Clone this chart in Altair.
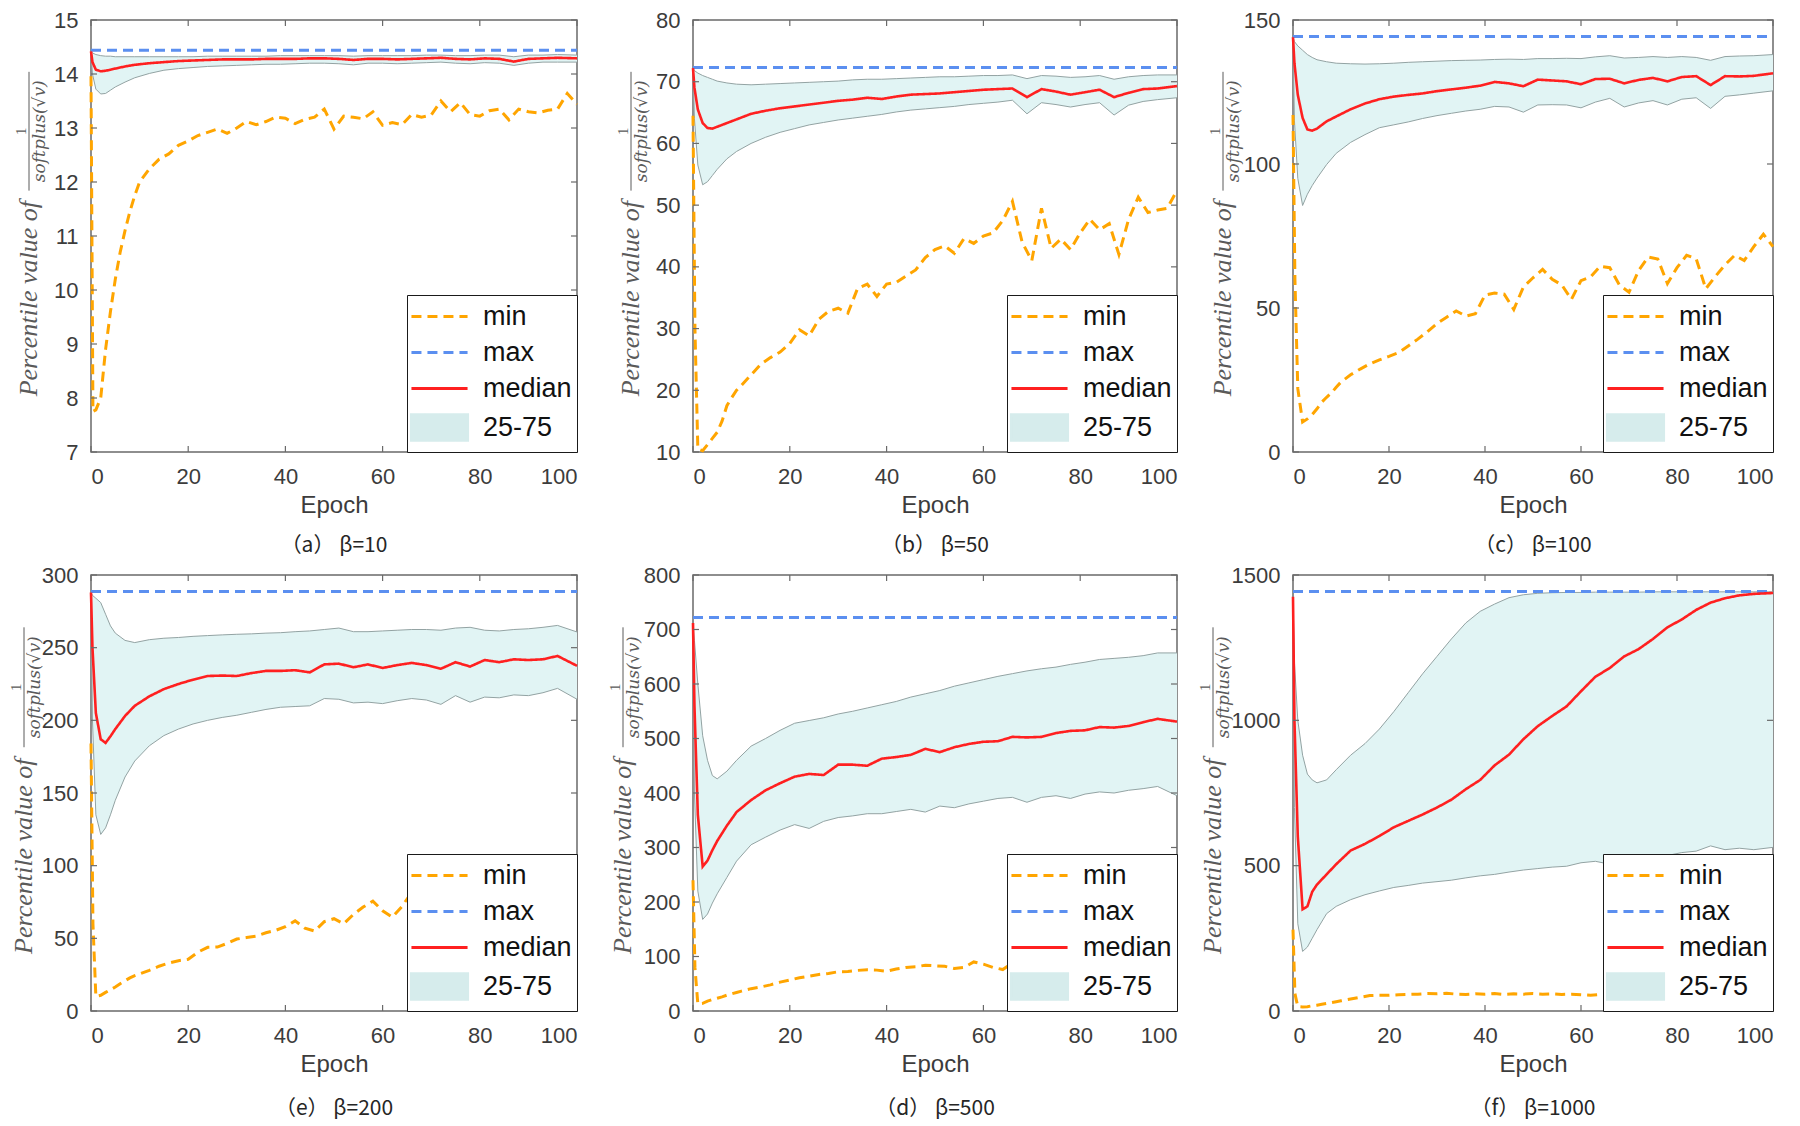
import altair as alt
import pandas as pd

# ---------------- data ----------------
EPOCH_Q = [0, 0.3, 1, 2, 3, 4, 5, 7, 9, 12, 15, 18, 21, 24, 27, 30, 33, 36, 39, 42,
           45, 48, 51, 54, 57, 60, 63, 66, 69, 72, 75, 78, 81, 84, 87, 90, 93, 96, 100]
EPOCH_MIN = [0, 0.4, 1, 2, 3, 4, 5, 6, 7, 8, 9, 10, 12, 14, 16, 18, 20, 22, 24, 26, 28,
             30, 32, 34, 36, 38, 40, 42, 44, 46, 48, 50, 52, 54, 56, 58, 60, 62, 64, 66,
             68, 70, 72, 74, 76, 78, 80, 82, 84, 86, 88, 90, 92, 94, 96, 98, 100]
X_TICKS = [0, 20, 40, 60, 80, 100]

# (a) beta = 10
a_max = 14.44
a_min = [13.96, 7.75, 7.78, 8.0, 8.9, 9.6, 10.2, 10.7, 11.1, 11.45, 11.75, 12.0,
         12.24, 12.42, 12.52, 12.68, 12.76, 12.86, 12.92, 12.98, 12.9, 13.0, 13.12, 13.06,
         13.12, 13.2, 13.18, 13.08, 13.16, 13.2, 13.35, 12.98, 13.22, 13.2, 13.17, 13.3,
         13.05, 13.1, 13.06, 13.25, 13.2, 13.24, 13.5, 13.3, 13.47, 13.25, 13.22, 13.32,
         13.35, 13.15, 13.35, 13.3, 13.28, 13.33, 13.35, 13.64, 13.44]
a_med = [14.42, 14.22, 14.08, 14.05, 14.06, 14.08, 14.1, 14.14, 14.17, 14.2, 14.22, 14.24,
         14.25, 14.26, 14.27, 14.27, 14.27, 14.28, 14.28, 14.28, 14.29, 14.29, 14.28, 14.26,
         14.28, 14.28, 14.27, 14.28, 14.29, 14.3, 14.28, 14.27, 14.29, 14.28, 14.23, 14.28,
         14.29, 14.3, 14.29]
a_q75 = [14.42, 14.39, 14.36, 14.34, 14.33, 14.33, 14.32, 14.32, 14.32, 14.32, 14.32, 14.32,
         14.32, 14.33, 14.33, 14.33, 14.33, 14.33, 14.34, 14.34, 14.34, 14.34, 14.34, 14.33,
         14.34, 14.34, 14.34, 14.34, 14.35, 14.35, 14.34, 14.34, 14.35, 14.35, 14.32, 14.35,
         14.35, 14.36, 14.35]
a_q25 = [14.42, 14.0, 13.72, 13.63, 13.64, 13.7, 13.76, 13.85, 13.93, 14.01, 14.07, 14.1,
         14.12, 14.14, 14.15, 14.16, 14.17, 14.18, 14.18, 14.19, 14.2, 14.2, 14.19, 14.17,
         14.2, 14.2, 14.19, 14.2, 14.21, 14.22, 14.2, 14.19, 14.21, 14.2, 14.16, 14.2,
         14.22, 14.22, 14.22]

# (b) beta = 50
b_max = 72.3
b_min = [64.5, 30.0, 10.5, 10.2, 11.2, 12.2, 13.2, 15.0, 17.5, 18.8, 20.0, 20.8,
         22.5, 24.2, 25.3, 26.2, 27.6, 29.8, 28.8, 31.5, 32.8, 33.3, 32.5, 36.5,
         37.2, 35.2, 37.2, 37.5, 38.5, 39.5, 41.5, 42.8, 43.4, 42.2, 44.6, 43.8,
         45.0, 45.5, 47.5, 50.6, 44.0, 41.0, 49.5, 43.0, 44.5, 42.8, 45.5, 47.7,
         46.0, 47.0, 42.0, 47.7, 51.3, 48.8, 49.2, 49.5, 52.4]
b_med = [72.2, 69.0, 65.5, 63.3, 62.5, 62.4, 62.7, 63.3, 63.9, 64.8, 65.3, 65.7,
         66.0, 66.3, 66.6, 66.9, 67.1, 67.4, 67.2, 67.6, 67.9, 68.0, 68.1, 68.3,
         68.5, 68.7, 68.8, 68.9, 67.5, 68.8, 68.4, 67.9, 68.3, 68.7, 67.5, 68.2,
         68.8, 68.9, 69.3]
b_q75 = [72.2, 71.8, 71.4, 71.0, 70.7, 70.4, 70.1, 69.8, 69.6, 69.5, 69.6, 69.7,
         69.8, 69.9, 70.0, 70.1, 70.3, 70.4, 70.4, 70.5, 70.6, 70.7, 70.8, 70.8,
         70.9, 71.0, 71.0, 71.1, 70.5, 71.0, 70.9, 70.7, 70.8, 71.0, 70.4, 70.8,
         71.0, 71.1, 71.1]
b_q25 = [72.2, 64.0, 56.5, 53.3, 53.8, 54.8, 55.8, 57.5, 58.7, 60.0, 61.0, 61.8,
         62.4, 63.0, 63.4, 63.8, 64.1, 64.4, 64.7, 65.1, 65.4, 65.6, 65.8, 66.0,
         66.3, 66.5, 66.7, 67.0, 64.8, 66.6, 66.3, 65.9, 66.3, 66.6, 64.6, 66.2,
         66.8, 67.1, 67.4]

# (c) beta = 100
c_max = 144.3
c_min = [117.0, 60.0, 22.0, 10.4, 11.5, 13.0, 15.0, 17.3, 19.0, 20.5, 22.5, 24.3,
         26.8, 28.8, 30.6, 32.0, 33.2, 34.5, 36.8, 39.2, 41.8, 44.6, 46.8, 49.0,
         47.2, 48.0, 54.5, 55.2, 54.8, 49.5, 57.3, 60.5, 63.4, 60.0, 58.0, 53.0,
         59.5, 60.8, 64.5, 64.0, 58.0, 55.5, 63.0, 67.7, 67.0, 58.5, 64.0, 68.3,
         67.1, 56.7, 61.0, 65.0, 68.3, 66.5, 71.3, 75.6, 71.3]
c_med = [144.0, 135.0, 124.0, 116.0, 112.0, 111.6, 112.3, 114.8, 116.5, 119.0, 121.0, 122.5,
         123.4, 124.0, 124.5, 125.3, 125.9, 126.5, 127.2, 128.5, 128.0, 127.0, 129.3, 129.0,
         128.7, 127.7, 129.5, 129.6, 128.0, 129.2, 129.9, 128.7, 130.2, 130.5, 127.4, 130.5,
         130.4, 130.6, 131.5]
c_q75 = [144.0, 142.5, 141.0, 139.5, 138.0, 137.0, 136.2, 135.5, 135.0, 134.8, 134.7, 134.8,
         135.0, 135.3, 135.5, 135.7, 135.9, 136.0, 136.1, 136.3, 136.4, 136.3, 136.6, 136.6,
         136.7, 136.6, 137.2, 137.6, 136.8, 137.0, 137.3, 137.0, 137.3, 137.0, 136.0, 137.3,
         137.5, 137.6, 138.0]
c_q25 = [144.0, 115.0, 95.0, 85.6, 89.5, 92.5, 95.1, 99.8, 103.7, 107.5, 110.2, 112.6,
         113.6, 114.6, 115.8, 116.8, 117.6, 118.4, 119.0, 120.0, 119.8, 118.0, 120.5, 120.6,
         120.5, 119.5, 121.5, 122.8, 119.8, 121.2, 122.0, 120.5, 122.5, 123.0, 119.3, 123.5,
         124.0, 124.6, 125.4]

# (e) beta = 200
e_max = 288.6
e_min = [184.0, 60.0, 10.0, 10.8, 12.8, 14.6, 16.5, 18.8, 20.8, 22.8, 24.3, 25.5,
         28.0, 30.8, 33.0, 34.6, 35.6, 40.5, 43.8, 44.0, 46.5, 49.5, 50.5, 51.5,
         53.8, 55.5, 58.0, 62.0, 57.0, 55.0, 61.5, 63.5, 60.0, 66.5, 71.5, 75.6,
         69.0, 64.5, 72.0, 81.8, 78.0, 76.0, 80.0, 82.0, 79.0, 84.0, 83.0, 86.0,
         84.0, 88.0, 85.0, 87.0, 89.0, 86.0, 88.0, 90.0, 86.8]
e_med = [288.0, 250.0, 205.0, 187.0, 184.5, 189.0, 194.0, 203.0, 210.0, 216.5, 221.5, 225.0,
         228.0, 230.5, 230.8, 230.5, 232.5, 234.0, 234.0, 234.5, 233.0, 238.5, 239.0, 236.5,
         238.5, 236.0, 238.0, 239.5, 238.0, 235.5, 240.0, 237.0, 241.5, 240.0, 242.0, 241.5,
         242.0, 244.3, 237.5]
e_q75 = [288.0, 286.0, 284.0, 281.0, 273.0, 265.0, 260.0, 255.0, 253.5, 255.5, 256.5, 257.0,
         257.8, 258.3, 258.8, 259.2, 259.5, 260.0, 260.3, 261.0, 261.5, 262.5, 263.5, 261.0,
         261.0, 261.5, 262.0, 262.5, 262.5, 262.0, 263.5, 264.0, 262.0, 261.5, 262.5, 263.0,
         264.0, 265.3, 260.8]
e_q25 = [288.0, 200.0, 135.0, 121.5, 126.0, 135.0, 145.0, 161.0, 172.0, 182.5, 189.5, 194.0,
         197.5, 200.0, 202.0, 203.5, 205.5, 207.5, 209.0, 209.5, 210.0, 215.0, 214.5, 212.0,
         212.5, 211.5, 213.5, 215.0, 214.0, 211.0, 217.0, 212.5, 216.0, 215.5, 217.5, 217.0,
         219.0, 222.0, 214.5]

# (d) beta = 500
d_max = 722.0
d_min = [240.0, 80.0, 13.0, 14.0, 18.0, 21.0, 23.5, 26.0, 29.0, 31.5, 34.0, 36.5,
         41.0, 44.0, 48.0, 53.0, 57.0, 61.0, 64.0, 67.0, 69.0, 72.0, 72.5, 74.5,
         75.5, 75.0, 73.0, 77.0, 80.0, 81.0, 84.0, 83.0, 82.0, 78.0, 80.0, 90.0,
         86.0, 80.0, 76.0, 88.0, 86.0, 84.0, 80.0, 82.0, 78.0, 80.0, 76.0, 78.0,
         74.0, 76.0, 72.0, 74.0, 71.0, 73.0, 70.0, 72.0, 70.0]
d_med = [712.0, 560.0, 360.0, 265.0, 276.0, 295.0, 312.0, 340.0, 365.0, 387.0, 405.0, 418.0,
         430.0, 435.0, 433.0, 452.0, 452.0, 450.0, 463.0, 466.0, 470.0, 481.0, 475.0, 484.0,
         490.0, 494.0, 495.0, 503.0, 502.0, 503.0, 510.0, 514.0, 515.0, 521.0, 520.0, 523.0,
         530.0, 536.0, 531.0]
d_q75 = [712.0, 680.0, 600.0, 505.0, 460.0, 432.0, 426.0, 440.0, 460.0, 486.0, 500.0, 515.0,
         528.0, 533.0, 538.0, 545.0, 550.0, 556.0, 562.0, 568.0, 576.0, 582.0, 588.0, 596.0,
         602.0, 608.0, 614.0, 619.0, 624.0, 628.0, 631.0, 636.0, 640.0, 645.0, 647.0, 649.0,
         652.0, 657.0, 657.0]
d_q25 = [712.0, 400.0, 220.0, 168.0, 178.0, 198.0, 215.0, 245.0, 275.0, 305.0, 319.0, 332.0,
         342.0, 335.0, 348.0, 355.0, 358.0, 362.0, 362.0, 366.0, 370.0, 365.0, 376.0, 373.0,
         380.0, 385.0, 390.0, 392.0, 383.0, 392.0, 395.0, 390.0, 398.0, 402.0, 400.0, 405.0,
         408.0, 412.0, 395.0]

# (f) beta = 1000
f_max = 1443.0
f_min = [280.0, 60.0, 15.0, 14.0, 15.0, 18.0, 20.0, 23.0, 26.0, 29.0, 32.0, 35.0,
         41.0, 47.0, 53.0, 54.0, 54.0, 56.0, 57.0, 58.0, 60.0, 59.0, 61.0, 58.0,
         57.0, 59.0, 58.0, 60.0, 57.0, 59.0, 58.0, 60.0, 58.0, 59.0, 57.0, 58.0,
         56.0, 54.0, 57.0, 56.0, 58.0, 57.0, 55.0, 58.0, 56.0, 57.0, 55.0, 58.0,
         56.0, 57.0, 55.0, 57.0, 56.0, 58.0, 55.0, 57.0, 56.0]
f_med = [1425.0, 1000.0, 600.0, 350.0, 360.0, 410.0, 435.0, 470.0, 505.0, 552.0, 575.0, 602.0,
         632.0, 654.0, 676.0, 700.0, 727.0, 763.0, 795.0, 845.0, 882.0, 935.0, 980.0, 1015.0,
         1048.0, 1100.0, 1150.0, 1180.0, 1220.0, 1245.0, 1280.0, 1320.0, 1347.0, 1380.0, 1405.0,
         1420.0, 1430.0, 1435.0, 1438.0]
f_q75 = [1425.0, 1200.0, 1000.0, 880.0, 815.0, 795.0, 785.0, 795.0, 830.0, 880.0, 920.0, 970.0,
         1030.0, 1095.0, 1160.0, 1220.0, 1280.0, 1335.0, 1375.0, 1400.0, 1422.0, 1432.0, 1437.0,
         1439.0, 1440.0, 1440.0, 1441.0, 1441.0, 1441.0, 1441.0, 1442.0, 1442.0, 1442.0, 1442.0,
         1442.0, 1442.0, 1442.0, 1442.0, 1442.0]
f_q25 = [1425.0, 700.0, 300.0, 205.0, 220.0, 250.0, 280.0, 335.0, 360.0, 383.0, 400.0, 413.0,
         425.0, 432.0, 440.0, 445.0, 450.0, 458.0, 465.0, 470.0, 478.0, 485.0, 490.0, 495.0,
         498.0, 510.0, 515.0, 505.0, 520.0, 525.0, 530.0, 535.0, 545.0, 550.0, 568.0, 555.0,
         560.0, 555.0, 563.0]

PANELS = [
    dict(cap="（a） β=10", ydom=[7, 15], yticks=[7, 8, 9, 10, 11, 12, 13, 14, 15],
         mx=a_max, mn=a_min, med=a_med, q25=a_q25, q75=a_q75, dx=0),
    dict(cap="（b） β=50", ydom=[10, 80], yticks=[10, 20, 30, 40, 50, 60, 70, 80],
         mx=b_max, mn=b_min, med=b_med, q25=b_q25, q75=b_q75, dx=0),
    dict(cap="（c） β=100", ydom=[0, 150], yticks=[0, 50, 100, 150],
         mx=c_max, mn=c_min, med=c_med, q25=c_q25, q75=c_q75, dx=-8),
    dict(cap="（e） β=200", ydom=[0, 300], yticks=[0, 50, 100, 150, 200, 250, 300],
         mx=e_max, mn=e_min, med=e_med, q25=e_q25, q75=e_q75, dx=-5),
    dict(cap="（d） β=500", ydom=[0, 800], yticks=[0, 100, 200, 300, 400, 500, 600, 700, 800],
         mx=d_max, mn=d_min, med=d_med, q25=d_q25, q75=d_q75, dx=-8),
    dict(cap="（f） β=1000", ydom=[0, 1500], yticks=[0, 500, 1000, 1500],
         mx=f_max, mn=f_min, med=f_med, q25=f_q25, q75=f_q75, dx=-18),
]

SERIES = ["min", "max", "median", "25-75"]
BAND_FILL = "#e1f4f4"
BAND_EDGE = "#93a3a3"
FRAME = "#6a6a6a"
SERIES_COLORS = ["#ffa500", "#5b8ff0", "#ff2020", "#d6ecec"]
SERIES_DASH = [[10, 6], [10, 6], [1, 0], [1, 0]]
LINE_KEY = "M-1.87,0H1.87"
SERIES_SHAPE = [LINE_KEY, LINE_KEY, LINE_KEY, "M-1.87,-0.85H1.87V0.85H-1.87Z"]

COL_W = [486, 484, 480]
ROW_H = [432, 436]
CAP_OFFSET = [18, 22]

LEGEND = alt.Legend(
    title=None, orient="bottom-right", offset=0, zindex=1,
    fillColor="white", strokeColor="#1a1a1a", padding=5, rowPadding=6,
    labelFont="Liberation Sans", labelFontSize=27, labelColor="#111111",
    labelOffset=27, symbolOffset=11,
    symbolSize=900, symbolStrokeWidth=3, symbolOpacity=1,
)


def make_panel(p, W, H, cap_off):
    xs = alt.Scale(domain=[0, 100], nice=False, zero=False)
    ys = alt.Scale(domain=p["ydom"], nice=False, zero=False)
    xax = alt.Axis(values=X_TICKS, title="Epoch", format="d")
    yax = alt.Axis(values=p["yticks"], title=None, format="d")

    def Xf(field):
        return alt.X(field, scale=xs, axis=xax)

    def Y(field):
        return alt.Y(field, scale=ys, axis=yax)

    X = Xf("epoch:Q")

    band_df = pd.DataFrame({"epoch": EPOCH_Q, "q25": p["q25"], "q75": p["q75"]})
    min_df = pd.DataFrame({"epoch": EPOCH_MIN, "value": p["mn"], "series": "min"})
    max_df = pd.DataFrame({"epoch": [0, 100], "value": [p["mx"], p["mx"]], "series": "max"})
    med_df = pd.DataFrame({"epoch": EPOCH_Q, "value": p["med"], "series": "median"})
    key_df = pd.DataFrame({"epoch": [0], "value": [p["ydom"][0]], "series": ["25-75"]})
    xt_df = pd.DataFrame({"tx": X_TICKS})
    yt_df = pd.DataFrame({"ty": p["yticks"]})

    color = alt.Color("series:N", scale=alt.Scale(domain=SERIES, range=SERIES_COLORS),
                      legend=LEGEND)
    dash = alt.StrokeDash("series:N", scale=alt.Scale(domain=SERIES, range=SERIES_DASH),
                          legend=LEGEND)
    shape = alt.Shape("series:N", scale=alt.Scale(domain=SERIES, range=SERIES_SHAPE),
                      legend=LEGEND)

    band = alt.Chart(band_df).mark_area(color=BAND_FILL, opacity=1).encode(
        x=X, y=Y("q25:Q"), y2="q75:Q")
    # legend key carrier: its single row is filtered out, it only feeds the legend
    key = alt.Chart(key_df).transform_filter("datum.epoch < 0").mark_point(
        filled=True).encode(x=X, y=Y("value:Q"), color=color, strokeDash=dash, shape=shape)
    e25 = alt.Chart(band_df).mark_line(color=BAND_EDGE, strokeWidth=1).encode(
        x=X, y=Y("q25:Q"))
    e75 = alt.Chart(band_df).mark_line(color=BAND_EDGE, strokeWidth=1).encode(
        x=X, y=Y("q75:Q"))
    mn = alt.Chart(min_df).mark_line(strokeWidth=3).encode(
        x=X, y=Y("value:Q"), color=color, strokeDash=dash)
    mx = alt.Chart(max_df).mark_line(strokeWidth=3).encode(
        x=X, y=Y("value:Q"), color=color, strokeDash=dash)
    md = alt.Chart(med_df).mark_line(strokeWidth=2.6).encode(
        x=X, y=Y("value:Q"), color=color, strokeDash=dash)

    # inward tick marks on all four sides (MATLAB box style)
    tk = dict(color=FRAME, strokeWidth=1.2)
    xt_b = alt.Chart(xt_df).mark_rule(**tk).encode(
        x=Xf("tx:Q"), y=alt.value(H), y2=alt.value(H - 6))
    xt_t = alt.Chart(xt_df).mark_rule(**tk).encode(
        x=Xf("tx:Q"), y=alt.value(0), y2=alt.value(6))
    yt_l = alt.Chart(yt_df).mark_rule(**tk).encode(
        y=Y("ty:Q"), x=alt.value(0), x2=alt.value(6))
    yt_r = alt.Chart(yt_df).mark_rule(**tk).encode(
        y=Y("ty:Q"), x=alt.value(W), x2=alt.value(W - 6))

    dx = p["dx"]
    t_main = alt.Chart(pd.DataFrame({"t": ["Percentile value of"]})).mark_text(
        angle=270, font="Liberation Serif", fontStyle="italic", fontSize=26,
        color="#5a5a5a", align="center", baseline="alphabetic").encode(
        x=alt.value(-54 + dx), y=alt.value(0.645 * H), text="t:N")
    bar_top, bar_bot = 0.12 * H, 0.395 * H
    mid = (bar_top + bar_bot) / 2
    t_num = alt.Chart(pd.DataFrame({"t": ["1"]})).mark_text(
        angle=270, font="Liberation Serif", fontSize=15, color="#5a5a5a",
        align="center", baseline="alphabetic").encode(
        x=alt.value(-65 + dx), y=alt.value(mid), text="t:N")
    t_bar = alt.Chart(pd.DataFrame({"t": ["bar"]})).mark_rule(
        color="#5a5a5a", strokeWidth=1).encode(
        x=alt.value(-62 + dx), y=alt.value(bar_top), y2=alt.value(bar_bot))
    t_den = alt.Chart(pd.DataFrame({"t": ["softplus(√v)"]})).mark_text(
        angle=270, font="DejaVu Serif", fontStyle="italic", fontSize=17, color="#5a5a5a",
        align="center", baseline="top").encode(
        x=alt.value(-59 + dx), y=alt.value(mid), text="t:N")

    return alt.layer(band, key, e25, e75, mn, mx, md, xt_b, xt_t, yt_l, yt_r,
                     t_main, t_num, t_bar, t_den).properties(
        width=W, height=H,
        title=alt.TitleParams(text=p["cap"], orient="bottom", anchor="middle", offset=cap_off,
                              font="Noto Sans CJK SC", fontSize=21, fontWeight="normal",
                              color="#262626"))


charts = []
for i, p in enumerate(PANELS):
    charts.append(make_panel(p, COL_W[i % 3], ROW_H[i // 3], CAP_OFFSET[i // 3]))

chart = alt.concat(*charts, columns=3, bounds="flush",
                   spacing={"row": 123, "column": 116}).resolve_scale(
    color="independent", strokeDash="independent", shape="independent").resolve_legend(
    color="independent", strokeDash="independent", shape="independent").properties(
    padding={"left": 0, "top": 0, "right": 0, "bottom": 0}
).configure_view(stroke=FRAME, strokeWidth=1.5).configure_axis(
    domain=False, ticks=False, grid=False,
    labelFont="Liberation Sans", labelFontSize=22, labelColor="#3c3c3c",
    titleFont="Liberation Sans", titleFontSize=24, titleFontWeight="normal",
    titleColor="#3c3c3c",
).configure_axisX(labelPadding=14, titlePadding=6).configure_axisY(labelPadding=13)

chart.save("out.html", embed_options={"renderer": "svg", "actions": False})
